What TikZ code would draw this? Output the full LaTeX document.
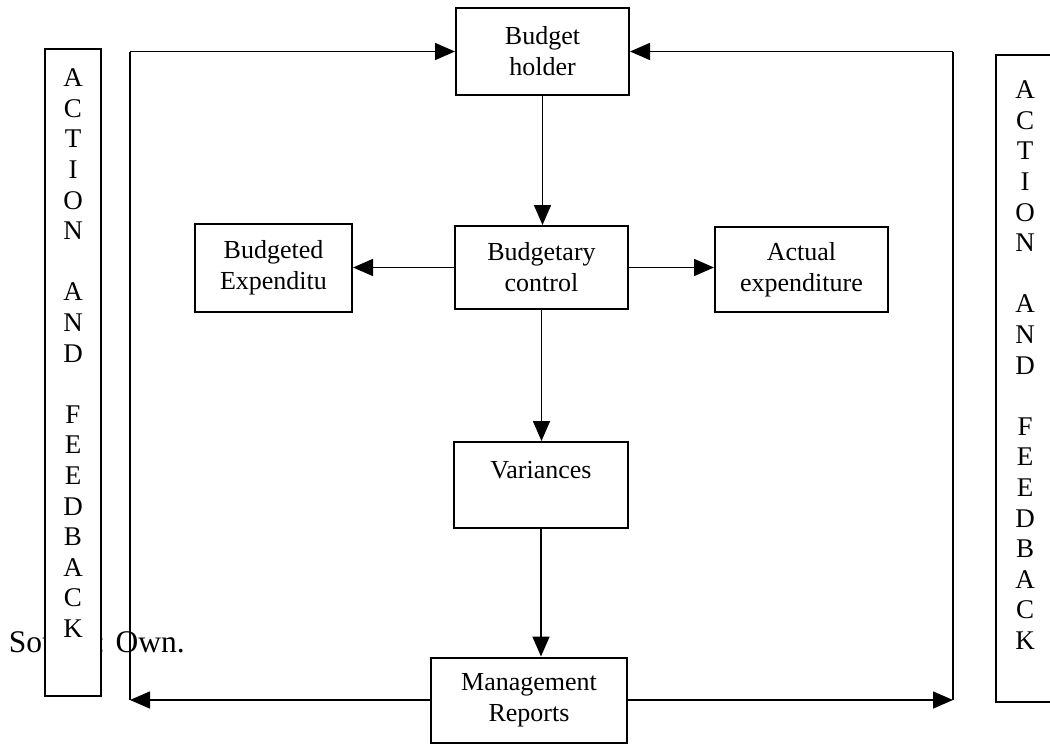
\documentclass[tikz,border=0pt]{standalone}
\usepackage{fontspec}
\setmainfont{Liberation Serif}
\usetikzlibrary{arrows.meta}

\begin{document}
\begin{tikzpicture}[x=0.5pt,y=-0.5pt,>={Triangle[length=10pt,width=8.5pt]},
                    line width=0.8pt]
  \tikzstyle{box}=[draw,line width=1pt,align=center,inner sep=0pt,
                   font=\fontsize{13}{15.5}\selectfont]
  \tikzstyle{side}=[align=center,inner sep=0pt,anchor=north,
                    font=\fontsize{13.5}{15.3}\selectfont]
  \useasboundingbox (0,0) rectangle (1050,744);

  \node[anchor=base west,inner sep=0pt,font=\fontsize{15.75}{18}\selectfont]
       (src) at (8,652) {Source: Own.};

  \draw[line width=1pt,fill=white] (45,49) rectangle (101,696);
  \node[side] (lact) at (73,68)
       {A\\C\\T\\I\\O\\N\\[15.3pt]A\\N\\D\\[15.3pt]F\\E\\E\\D\\B\\A\\C\\K};
  \draw[line width=1pt] (1050,55) -- (996,55) -- (996,702) -- (1050,702);
  \node[side] (ract) at (1025,80)
       {A\\C\\T\\I\\O\\N\\[15.3pt]A\\N\\D\\[15.3pt]F\\E\\E\\D\\B\\A\\C\\K};

  \node[box,minimum width=86.5pt,minimum height=43.5pt] (bh) at (542.5,51.5) {Budget\\holder};
  \node[box,minimum width=86.5pt,minimum height=41.5pt] (bc) at (541.5,267.5) {Budgetary\\control};
  \node[box,minimum width=78.5pt,minimum height=44pt]   (be) at (273.5,268) {Budgeted\\Expenditu};
  \node[box,minimum width=86.5pt,minimum height=42.5pt] (ae) at (801.5,269.5) {Actual\\expenditure};
  \node[box,minimum width=87pt,minimum height=43pt]     (var) at (541,485) {Variances\\\mbox{}};
  \node[box,minimum width=98pt,minimum height=42.5pt]   (mr) at (529,700) {Management\\Reports};

  \coordinate (lt) at (130,51.5);
  \coordinate (lb) at (130,700);
  \coordinate (rt) at (953,51.5);
  \coordinate (rb) at (953,700);

  \draw[->] (bh.south) -- (bh.south |- bc.north);
  \draw[->] (bc.west) -- (be.east |- bc.west);
  \draw[->] (bc.east) -- (ae.west |- bc.east);
  \draw[->] (bc.south) -- (bc.south |- var.north);
  \draw[->] (var.south) -- (var.south |- mr.north);
  \draw[->] (mr.west) -- (lb);
  \draw[->] (mr.east) -- (rb);
  \draw (lb) -- (lt);
  \draw (rb) -- (rt);
  \draw[->] (lt) -- (bh.west);
  \draw[->] (rt) -- (bh.east);
\end{tikzpicture}
\end{document}
